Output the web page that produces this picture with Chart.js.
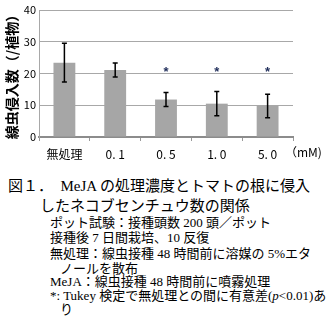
<!DOCTYPE html>
<html>
<head>
<meta charset="utf-8">
<script src="https://cdn.jsdelivr.net/npm/chart.js@4"></script>
<style>
    body { margin: 0; background: #fff; width: 328px; height: 334px; overflow: hidden; position: relative; }
    #wrap { position: absolute; left: 0; top: 0; width: 328px; height: 168px; }
    .t { position: absolute; white-space: pre; color: #000; font-family: "Liberation Serif", "Noto Sans CJK JP", serif; }
    .cap { font-size: 15px; line-height: 18px; }
    .note { font-size: 13px; line-height: 16px; }
    #unit { position: absolute; left: 285px; top: 143px; font: 12px "Noto Sans CJK JP", sans-serif; white-space: pre; }
</style>
</head>
<body>
<div id="wrap"><canvas id="chart"></canvas></div>
<div id="unit">（mM)</div>

<div class="t cap" style="left:8px; top:177px;">図１．　MeJA の処理濃度とトマトの根に侵入</div>
<div class="t cap" style="left:40px; top:197px;">したネコブセンチュウ数の関係</div>
<div class="t note" style="left:50px; top:215px;">ポット試験：接種頭数 200 頭／ポット</div>
<div class="t note" style="left:50px; top:230px;">接種後 7 日間栽培、10 反復</div>
<div class="t note" style="left:50px; top:246px;">無処理：線虫接種 48 時間前に溶媒の 5%エタ</div>
<div class="t note" style="left:60px; top:261px;">ノールを散布</div>
<div class="t note" style="left:50px; top:274px;">MeJA：線虫接種 48 時間前に噴霧処理</div>
<div class="t note" style="left:50px; top:288px;">*: Tukey 検定で無処理との間に有意差(<i>p</i>&lt;0.01)あ</div>
<div class="t note" style="left:60px; top:302px;">り</div>

<script>
const categories = ['無処理', '0.1', '0.5', '1.0', '5.0'];
const invasion = [23.4, 21.1, 11.8, 10.5, 9.8];
const errors = [6.1, 2.2, 2.2, 3.8, 3.7];
const starLevel = [null, null, 21, 21, 21];
const yTicks = [0, 10, 20, 30, 40];

// error bars and significance marks
const extrasPlugin = {
    id: 'extras',
    afterDatasetsDraw(chart) {
        const ctx = chart.ctx;
        const xs = chart.scales.x;
        const ys = chart.scales.y;
        ctx.save();
        ctx.strokeStyle = '#000';
        ctx.lineWidth = 1.5;
        invasion.forEach((v, i) => {
            const x = xs.getPixelForValue(i);
            const top = ys.getPixelForValue(v + errors[i]);
            const bot = ys.getPixelForValue(v - errors[i]);
            ctx.beginPath();
            ctx.moveTo(x, top); ctx.lineTo(x, bot);
            ctx.moveTo(x - 2.5, top); ctx.lineTo(x + 2.5, top);
            ctx.moveTo(x - 2.5, bot); ctx.lineTo(x + 2.5, bot);
            ctx.stroke();
        });
        ctx.fillStyle = '#1f2d5a';
        ctx.font = 'bold 13px "Liberation Sans", sans-serif';
        ctx.textAlign = 'center';
        ctx.textBaseline = 'middle';
        starLevel.forEach((s, i) => {
            if (s === null) return;
            ctx.fillText('*', xs.getPixelForValue(i), ys.getPixelForValue(s) + 2);
        });
        ctx.restore();
    }
};

new Chart(document.getElementById('chart').getContext('2d'), {
    type: 'bar',
    data: {
        labels: categories,
        datasets: [{
            data: invasion,
            backgroundColor: '#a6a6a6',
            borderWidth: 0,
            barPercentage: 0.43,
            categoryPercentage: 1
        }]
    },
    options: {
        responsive: true,
        maintainAspectRatio: false,
        animation: false,
        layout: { padding: { top: 10, right: 35, left: 0, bottom: 0 } },
        plugins: { legend: { display: false }, tooltip: { enabled: false } },
        scales: {
            x: {
                afterFit: s => { s.height = 31; },
                grid: { display: true, drawOnChartArea: false, tickLength: 4, color: '#9a9a9a', offset: true },
                border: { color: '#8c8c8c', width: 2 },
                ticks: {
                    color: '#000',
                    font: { family: '"Noto Sans CJK JP", sans-serif', size: 12 },
                    padding: 6,
                    maxRotation: 0,
                    callback: function(v) { return this.getLabelForValue(v).replace('.', '. '); }
                }
            },
            y: {
                min: 0,
                max: 40,
                afterFit: s => { s.width = 39; },
                afterBuildTicks: s => { s.ticks = yTicks.map(v => ({ value: v })); },
                grid: {
                    drawTicks: false,
                    color: '#a8a8a8',
                    lineWidth: 1
                },
                border: { color: '#a8a8a8', width: 1 },
                ticks: { color: '#000', font: { family: '"Noto Sans CJK JP", sans-serif', size: 11 }, padding: 3 },
                title: {
                    display: true,
                    text: '線虫侵入数（/植物）',
                    color: '#000',
                    font: { family: '"Noto Sans CJK JP", sans-serif', size: 14, weight: 'bold' },
                    padding: { top: 3, bottom: 0 }
                }
            }
        }
    },
    plugins: [extrasPlugin]
});
</script>
</body>
</html>
